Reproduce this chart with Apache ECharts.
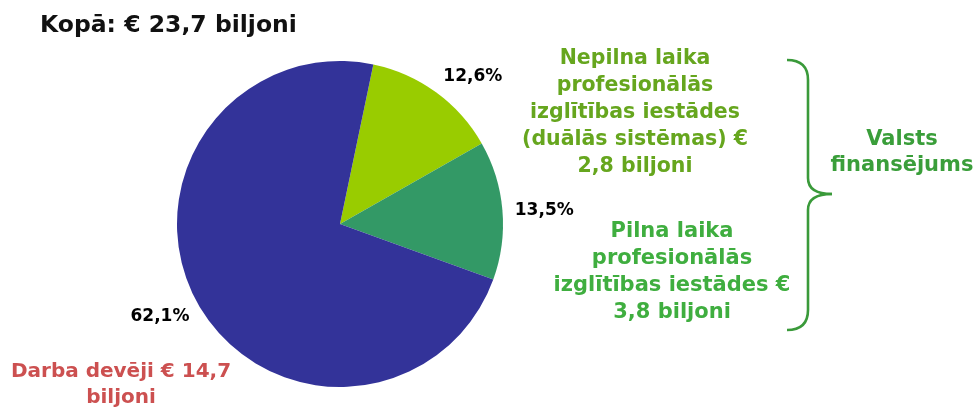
<!DOCTYPE html>
<html>
<head>
<meta charset="utf-8">
<script src="https://cdn.jsdelivr.net/npm/echarts@6/dist/echarts.min.js"></script>
<style>
html,body{margin:0;padding:0;background:#fff;}
#c{width:977px;height:410px;}
</style>
</head>
<body>
<div id="c"></div>
<script>
// Data
var titleText = 'Kopā: € 23,7 biljoni';
var sliceNames = ['Nepilna laika profesionālās izglītības iestādes (duālās sistēmas)', 'Pilna laika profesionālās izglītības iestādes', 'Darba devēji'];
var sliceShares = [13.5, 13.75, 72.75];          // visual angular shares of the pie
var pctLabels = ['12,6%', '13,5%', '62,1%'];       // printed percentage labels
var upperText = ['Nepilna laika', 'profesionālās', 'izglītības iestādes', '(duālās sistēmas) €', '2,8 biljoni'];
var lowerText = ['Pilna laika', 'profesionālās', 'izglītības iestādes €', '3,8 biljoni'];
var employerText = ['Darba devēji € 14,7', 'biljoni'];
var braceText = ['Valsts', 'finansējums'];

// Styling (kept apart from the data)
var sliceColors = ['#99cc00', '#339966', '#333399'];
var labelNudge = [[12, 18], [0, 4], [-1, -7]];

var chart = echarts.init(document.getElementById('c'), null, {renderer: 'canvas'});

var pieData = sliceNames.map(function (n, i) {
  return {name: n, value: sliceShares[i], itemStyle: {color: sliceColors[i]}};
});
var labelData = sliceNames.map(function (n, i) {
  return {name: n, value: sliceShares[i], label: {formatter: pctLabels[i], offset: labelNudge[i]}};
});

var fontFam = '"DejaVu Sans", sans-serif';
var braceStyle = {fill: 'none', stroke: '#3a9a3a', lineWidth: 2.6};

function curve(x1, y1, cx, cy, x2, y2) {
  return {type: 'bezierCurve', shape: {x1: x1, y1: y1, cpx1: cx, cpy1: cy, x2: x2, y2: y2}, style: braceStyle};
}
function seg(x1, y1, x2, y2) {
  return {type: 'line', shape: {x1: x1, y1: y1, x2: x2, y2: y2}, style: braceStyle};
}

chart.setOption({
  animation: false,
  series: [
    {
      type: 'pie',
      center: [340, 224],
      radius: [0, 163],
      startAngle: 78.2,
      clockwise: true,
      silent: true,
      label: {show: false},
      labelLine: {show: false},
      itemStyle: {borderWidth: 0},
      data: pieData
    },
    {
      type: 'pie',
      center: [340, 224],
      radius: [190, 214],
      startAngle: 78.2,
      clockwise: true,
      silent: true,
      itemStyle: {color: 'rgba(0,0,0,0)'},
      labelLine: {show: false},
      label: {
        show: true,
        position: 'inside',
        rotate: 0,
        color: '#000',
        fontFamily: fontFam,
        fontWeight: 'bold',
        fontSize: 17
      },
      data: labelData
    }
  ],
  graphic: [
    {
      type: 'text', x: 40, y: 26,
      style: {text: titleText, fill: '#111', font: 'bold 23.5px ' + fontFam,
              textAlign: 'left', textVerticalAlign: 'middle'}
    },
    {
      type: 'text', x: 635, y: 112.5,
      style: {text: upperText.join('\n'), fill: '#66a61e', font: 'bold 20.5px ' + fontFam, lineHeight: 27,
              textAlign: 'center', textVerticalAlign: 'middle'}
    },
    {
      type: 'text', x: 672, y: 272,
      style: {text: lowerText.join('\n'), fill: '#3fae3f', font: 'bold 21px ' + fontFam, lineHeight: 27,
              textAlign: 'center', textVerticalAlign: 'middle'}
    },
    {
      type: 'text', x: 121, y: 385,
      style: {text: employerText.join('\n'), fill: '#cc5050', font: 'bold 20px ' + fontFam, lineHeight: 26,
              textAlign: 'center', textVerticalAlign: 'middle'}
    },
    {
      type: 'text', x: 902, y: 153,
      style: {text: braceText.join('\n'), fill: '#3a9e3a', font: 'bold 21px ' + fontFam, lineHeight: 26,
              textAlign: 'center', textVerticalAlign: 'middle'}
    },
    curve(787, 60, 808, 60, 808, 80),
    seg(808, 80, 808, 178),
    curve(808, 178, 808, 194, 832, 194),
    curve(832, 194, 808, 194, 808, 210),
    seg(808, 210, 808, 310),
    curve(808, 310, 808, 330, 787, 330)
  ]
});
</script>
</body>
</html>
